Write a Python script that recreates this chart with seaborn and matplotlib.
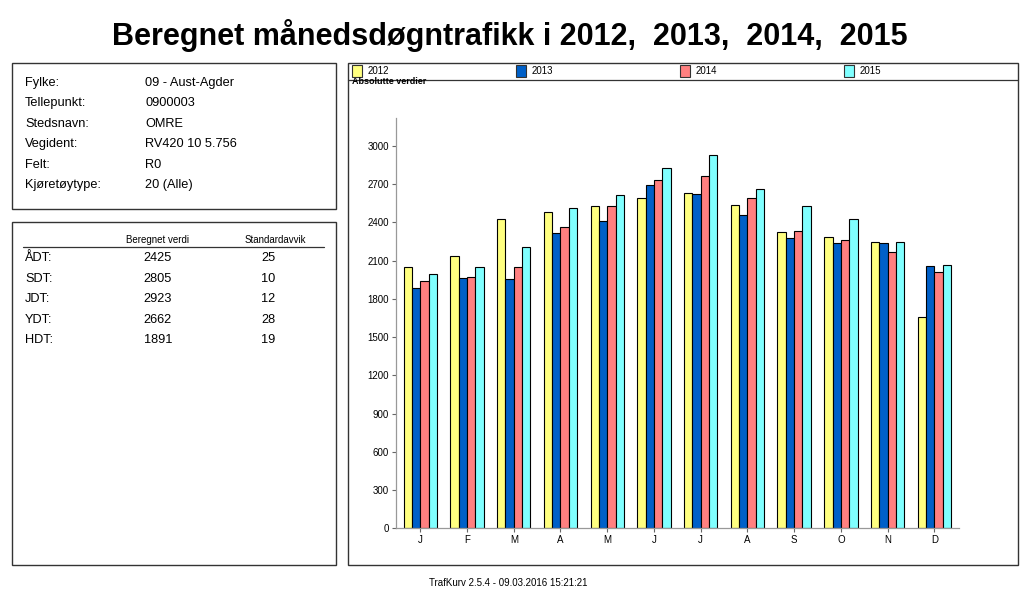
import numpy as np
import pandas as pd
import seaborn as sns
import matplotlib.pyplot as plt
from matplotlib.patches import Rectangle
from matplotlib.lines import Line2D

# data
month_keys = ['jan', 'feb', 'mar', 'apr', 'mai', 'jun',
              'jul', 'aug', 'sep', 'okt', 'nov', 'des']
month_labels = ['J', 'F', 'M', 'A', 'M', 'J', 'J', 'A', 'S', 'O', 'N', 'D']
years = ['2012', '2013', '2014', '2015']
v2012 = [2052, 2138, 2424, 2481, 2531, 2596, 2631, 2539, 2322, 2290, 2246, 1657]
v2013 = [1885, 1968, 1955, 2316, 2411, 2696, 2620, 2458, 2277, 2238, 2238, 2062]
v2014 = [1942, 1976, 2052, 2361, 2531, 2733, 2767, 2596, 2332, 2261, 2170, 2010]
v2015 = [1994, 2052, 2209, 2513, 2615, 2827, 2926, 2665, 2531, 2431, 2246, 2070]
colors = ['#FFFF80', '#0060C8', '#FF8080', '#80FFFF']

info_labels = ['Fylke:', 'Tellepunkt:', 'Stedsnavn:', 'Vegident:', 'Felt:', 'Kjøretøytype:']
info_values = ['09 - Aust-Agder', '0900003', 'OMRE', 'RV420 10 5.756', 'R0', '20 (Alle)']
stat_labels = ['ÅDT:', 'SDT:', 'JDT:', 'YDT:', 'HDT:']
stat_values = ['2425', '2805', '2923', '2662', '1891']
stat_std = ['25', '10', '12', '28', '19']

df = pd.DataFrame({
    'month': month_keys * 4,
    'year': np.repeat(years, 12),
    'value': v2012 + v2013 + v2014 + v2015,
})

sns.set_style('white')
plt.rcParams['font.family'] = ['Liberation Sans', 'DejaVu Sans']
plt.rcParams['text.color'] = 'black'
plt.rcParams['xtick.color'] = 'black'
plt.rcParams['ytick.color'] = 'black'

W, H = 1023, 592
fig = plt.figure(figsize=(W / 100, H / 100), dpi=100)


def fx(x):
    return x / W


def fy(y):
    return 1 - y / H


def box(x0, y0, x1, y1):
    fig.add_artist(Rectangle((fx(x0), fy(y1)), fx(x1 - x0), (y1 - y0) / H,
                             fill=False, edgecolor='#333333', linewidth=1.0))


# title
fig.text(fx(510), fy(35), 'Beregnet månedsdøgntrafikk i 2012,  2013,  2014,  2015',
         ha='center', va='center', fontsize=22, fontweight='bold')

# left info boxes
box(12, 63, 336, 209)
for i, (lab, val) in enumerate(zip(info_labels, info_values)):
    yy = 83 + i * 20.4
    fig.text(fx(25), fy(yy), lab, ha='left', va='center', fontsize=9.2)
    fig.text(fx(145), fy(yy), val, ha='left', va='center', fontsize=9.2)

box(12, 222, 336, 565)
fig.text(fx(158), fy(240), 'Beregnet verdi', ha='center', va='center', fontsize=7)
fig.text(fx(275), fy(240), 'Standardavvik', ha='center', va='center', fontsize=7)
fig.add_artist(Line2D([fx(23), fx(324)], [fy(247), fy(247)], color='#333333', linewidth=0.9))
for i, (lab, val, sd) in enumerate(zip(stat_labels, stat_values, stat_std)):
    yy = 258 + i * 20.6
    fig.text(fx(25), fy(yy), lab, ha='left', va='center', fontsize=9.2)
    fig.text(fx(158), fy(yy), val, ha='center', va='center', fontsize=9.2)
    fig.text(fx(268), fy(yy), sd, ha='center', va='center', fontsize=9.2)

# chart frame and legend strip
box(348, 63, 1018, 565)
fig.add_artist(Line2D([fx(348), fx(1018)], [fy(80), fy(80)], color='#333333', linewidth=0.9))
for i, (yr, c) in enumerate(zip(years, colors)):
    x0 = 352 + i * 164
    fig.add_artist(Rectangle((fx(x0), fy(77)), fx(10), 12 / H,
                             facecolor=c, edgecolor='#333333', linewidth=0.8))
    fig.text(fx(x0 + 16), fy(71), yr, ha='left', va='center', fontsize=7)
fig.text(fx(352), fy(82), 'Absolutte verdier', ha='left', va='center',
         fontsize=6.5, fontweight='bold')

# bar chart
ax = fig.add_axes([fx(396), fy(528.3), fx(958.6 - 396), (528.3 - 118) / H])
sns.barplot(data=df, x='month', y='value', hue='year', order=month_keys,
            hue_order=years, palette=colors, saturation=1, width=0.714,
            edgecolor='black', linewidth=0.8, legend=False, ax=ax)
ax.set_xlim(-0.52, 11.52)
ax.set_ylim(0, 3220)
ax.set_yticks(np.arange(0, 3001, 300))
ax.set_xticks(range(12))
ax.set_xticklabels(month_labels)
ax.set_xlabel('')
ax.set_ylabel('')
ax.patch.set_alpha(0)
for s in ['top', 'right']:
    ax.spines[s].set_visible(False)
for s in ['left', 'bottom']:
    ax.spines[s].set_color('#999999')
    ax.spines[s].set_linewidth(0.9)
ax.tick_params(axis='both', which='both', direction='out', length=3, width=0.8,
               color='#666666', labelsize=7, pad=2, left=True, bottom=True)

fig.text(fx(508), fy(583), 'TrafKurv 2.5.4 - 09.03.2016 15:21:21',
         ha='center', va='center', fontsize=7)

fig.savefig('out.png', dpi=100)
